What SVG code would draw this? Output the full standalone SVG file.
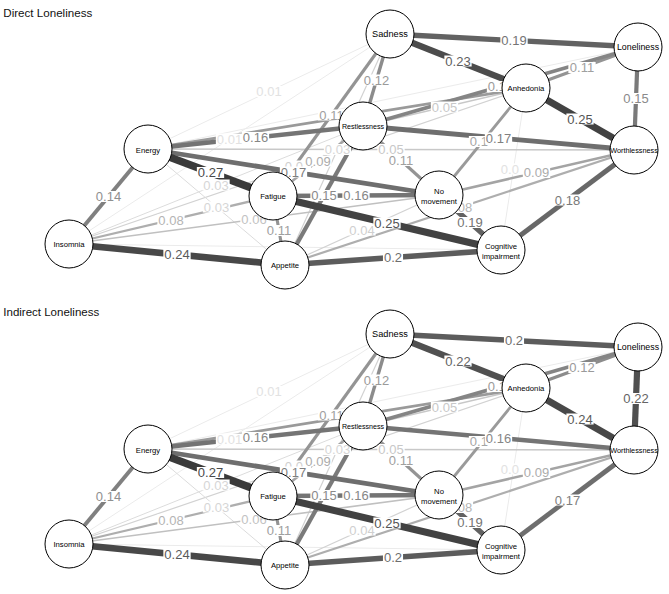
<svg xmlns="http://www.w3.org/2000/svg" width="669" height="594" viewBox="0 0 669 594">
<style>
text{font-family:"Liberation Sans",Arial,Helvetica,sans-serif}
.title{font-size:11.6px;fill:#111}
line{stroke-linecap:butt;fill:none}
.w01{stroke:#ebebeb;stroke-width:1}
.w03{stroke:#dcdcdc;stroke-width:1}
.w04{stroke:#d2d2d2;stroke-width:1.2}
.w05{stroke:#c8c8c8;stroke-width:1.4}
.w06{stroke:#c0c0c0;stroke-width:1.7}
.w08{stroke:#aeaeae;stroke-width:2.2}
.w09{stroke:#a4a4a4;stroke-width:2.5}
.w10{stroke:#9a9a9a;stroke-width:2.8}
.w11{stroke:#949494;stroke-width:3.1}
.w12{stroke:#8c8c8c;stroke-width:3.4}
.w13{stroke:#858585;stroke-width:3.7}
.w14{stroke:#808080;stroke-width:3.9}
.w15{stroke:#7a7a7a;stroke-width:4.2}
.w16{stroke:#747474;stroke-width:4.5}
.w17{stroke:#6e6e6e;stroke-width:4.8}
.w18{stroke:#686868;stroke-width:5}
.w19{stroke:#626262;stroke-width:5.3}
.w20{stroke:#5c5c5c;stroke-width:5.6}
.w22{stroke:#505050;stroke-width:6.2}
.w23{stroke:#4c4c4c;stroke-width:6.4}
.w24{stroke:#484848;stroke-width:6.7}
.w25{stroke:#424242;stroke-width:7}
.w27{stroke:#3a3a3a;stroke-width:7.6}
.bg{fill:#fff}
.el{font-size:13px;text-anchor:middle}
.es{font-size:13px;text-anchor:start}
.l01{fill:#e2e2e2}.l03{fill:#d6d6d6}.l04{fill:#cfcfcf}.l05{fill:#c8c8c8}.l06{fill:#c2c2c2}.l08{fill:#b4b4b4}.l09{fill:#acacac}.l10{fill:#a6a6a6}.l11{fill:#a0a0a0}.l12{fill:#9a9a9a}.l14{fill:#909090}.l15{fill:#8a8a8a}.l16{fill:#868686}.l17{fill:#808080}.l18{fill:#7a7a7a}.l19{fill:#747474}.l20{fill:#6e6e6e}.l22{fill:#646464}.l23{fill:#5e5e5e}.l24{fill:#5a5a5a}.l25{fill:#545454}.l27{fill:#4a4a4a}
.node circle{fill:#fff;stroke:#000;stroke-width:1}
.node text{fill:#000;text-anchor:middle;font-size:7.7px}
</style>

<text class="title" x="3.3" y="16.6">Direct Loneliness</text>
<text class="title" x="3.3" y="316.4" style="font-size:11.5px">Indirect Loneliness</text>

<!-- ================= DIRECT ================= -->
<g id="direct">
<g id="direct-connectors">
<line class="w01" x1="148" y1="149" x2="390" y2="34"/>
<line class="w01" x1="69" y1="244" x2="390" y2="34"/>
<line class="w01" x1="148" y1="149" x2="638" y2="47"/>
<line class="w01" x1="526" y1="88" x2="501" y2="250"/>
<line class="w01" x1="69" y1="244" x2="501" y2="250"/>
<line class="w04" x1="69" y1="244" x2="526" y2="88"/>
<line class="w03" x1="69" y1="244" x2="363" y2="126"/>
<line class="w03" x1="148" y1="149" x2="285" y2="265"/>
<line class="w04" x1="285" y1="265" x2="390" y2="34"/>
<line class="w04" x1="285" y1="265" x2="439" y2="195"/>
<line class="w05" x1="363" y1="126" x2="526" y2="88"/>
<line class="w05" x1="148" y1="149" x2="634" y2="150"/>
<line class="w06" x1="69" y1="244" x2="439" y2="195"/>
<line class="w08" x1="69" y1="244" x2="273" y2="196"/>
<line class="w08" x1="634" y1="150" x2="285" y2="265"/>
<line class="w09" x1="439" y1="195" x2="634" y2="150"/>
<line class="w09" x1="273" y1="196" x2="363" y2="126"/>
<line class="w10" x1="148" y1="149" x2="526" y2="88"/>
<line class="w10" x1="526" y1="88" x2="439" y2="195"/>
<line class="w11" x1="638" y1="47" x2="526" y2="88"/>
<line class="w11" x1="363" y1="126" x2="439" y2="195"/>
<line class="w11" x1="273" y1="196" x2="285" y2="265"/>
<line class="w11" x1="273" y1="196" x2="390" y2="34"/>
<line class="w13" x1="363" y1="126" x2="638" y2="47"/>
<line class="w12" x1="390" y1="34" x2="363" y2="126"/>
<line class="w14" x1="148" y1="149" x2="69" y2="244"/>
<line class="w15" x1="285" y1="265" x2="363" y2="126"/>
<line class="w15" x1="638" y1="47" x2="634" y2="150"/>
<line class="w16" x1="148" y1="149" x2="363" y2="126"/>
<line class="w16" x1="273" y1="196" x2="439" y2="195"/>
<line class="w17" x1="148" y1="149" x2="439" y2="195"/>
<line class="w17" x1="363" y1="126" x2="634" y2="150"/>
<line class="w18" x1="634" y1="150" x2="501" y2="250"/>
<line class="w19" x1="390" y1="34" x2="638" y2="47"/>
<line class="w19" x1="439" y1="195" x2="501" y2="250"/>
<line class="w20" x1="285" y1="265" x2="501" y2="250"/>
<line class="w23" x1="390" y1="34" x2="526" y2="88"/>
<line class="w24" x1="69" y1="244" x2="285" y2="265"/>
<line class="w25" x1="273" y1="196" x2="501" y2="250"/>
<line class="w25" x1="526" y1="88" x2="634" y2="150"/>
<line class="w27" x1="148" y1="149" x2="273" y2="196"/>
</g>
<g id="direct-edge-labels">
<rect class="bg" x="215.85" y="133.5" width="27.3" height="11"/><text class="el l01" x="229.5" y="143.6">0.01</text>
<rect class="bg" x="255.35" y="86" width="27.3" height="11"/><text class="el l01" x="269" y="96.1">0.01</text>
<rect class="bg" x="499.85" y="163.5" width="27.3" height="11"/><text class="es l01" x="500.85" y="173.6">0.0</text>
<rect class="bg" x="283.85" y="160.5" width="27.3" height="11"/><text class="es l04" x="284.85" y="170.6">0.0</text>
<rect class="bg" x="202.35" y="179.5" width="27.3" height="11"/><text class="el l03" x="216" y="189.6">0.03</text>
<rect class="bg" x="202.85" y="201.5" width="27.3" height="11"/><text class="el l03" x="216.5" y="211.6">0.03</text>
<rect class="bg" x="323.85" y="144" width="27.3" height="11"/><text class="el l03" x="337.5" y="154.1">0.03</text>
<rect class="bg" x="348.35" y="224.5" width="27.3" height="11"/><text class="el l04" x="362" y="234.6">0.04</text>
<rect class="bg" x="430.85" y="101.5" width="27.3" height="11"/><text class="el l05" x="444.5" y="111.6">0.05</text>
<rect class="bg" x="377.35" y="144" width="27.3" height="11"/><text class="el l05" x="391" y="154.1">0.05</text>
<rect class="bg" x="240.35" y="214" width="27.3" height="11"/><text class="el l06" x="254" y="224.1">0.06</text>
<rect class="bg" x="157.35" y="214.5" width="27.3" height="11"/><text class="el l08" x="171" y="224.6">0.08</text>
<rect class="bg" x="445.85" y="202" width="27.3" height="11"/><text class="es l08" x="457.7" y="212.1">08</text>
<rect class="bg" x="522.85" y="167" width="27.3" height="11"/><text class="el l09" x="536.5" y="177.1">0.09</text>
<rect class="bg" x="304.35" y="155.5" width="27.3" height="11"/><text class="el l09" x="318" y="165.6">0.09</text>
<rect class="bg" x="486.85" y="81" width="27.3" height="11"/><text class="es l12" x="487.85" y="91.1">0.1</text>
<rect class="bg" x="468.85" y="136" width="27.3" height="11"/><text class="es l10" x="469.85" y="146.1">0.1</text>
<rect class="bg" x="568.35" y="62" width="27.3" height="11"/><text class="el l11" x="582" y="72.1">0.11</text>
<rect class="bg" x="387.35" y="155" width="27.3" height="11"/><text class="el l11" x="401" y="165.1">0.11</text>
<rect class="bg" x="265.35" y="225" width="27.3" height="11"/><text class="el l11" x="279" y="235.1">0.11</text>
<rect class="bg" x="317.85" y="109.5" width="27.3" height="11"/><text class="el l11" x="331.5" y="119.6">0.11</text>
<rect class="bg" x="362.85" y="74.5" width="27.3" height="11"/><text class="el l12" x="376.5" y="84.6">0.12</text>
<rect class="bg" x="94.85" y="191" width="27.3" height="11"/><text class="el l14" x="108.5" y="201.1">0.14</text>
<rect class="bg" x="310.35" y="190" width="27.3" height="11"/><text class="el l15" x="324" y="200.1">0.15</text>
<rect class="bg" x="622.35" y="93" width="27.3" height="11"/><text class="el l15" x="636" y="103.1">0.15</text>
<rect class="bg" x="241.85" y="132" width="27.3" height="11"/><text class="el l16" x="255.5" y="142.1">0.16</text>
<rect class="bg" x="342.35" y="190" width="27.3" height="11"/><text class="el l16" x="356" y="200.1">0.16</text>
<rect class="bg" x="279.85" y="166.5" width="27.3" height="11"/><text class="el l17" x="293.5" y="176.6">0.17</text>
<rect class="bg" x="484.85" y="132.5" width="27.3" height="11"/><text class="el l17" x="498.5" y="142.6">0.17</text>
<rect class="bg" x="553.85" y="194.5" width="27.3" height="11"/><text class="el l18" x="567.5" y="204.6">0.18</text>
<rect class="bg" x="500.35" y="35" width="27.3" height="11"/><text class="el l19" x="514" y="45.1">0.19</text>
<rect class="bg" x="456.35" y="217" width="27.3" height="11"/><text class="el l19" x="470" y="227.1">0.19</text>
<rect class="bg" x="382.95" y="252" width="20.1" height="11"/><text class="el l20" x="393" y="262.1">0.2</text>
<rect class="bg" x="444.35" y="55.5" width="27.3" height="11"/><text class="el l23" x="458" y="65.6">0.23</text>
<rect class="bg" x="163.35" y="249" width="27.3" height="11"/><text class="el l24" x="177" y="259.1">0.24</text>
<rect class="bg" x="373.35" y="217.5" width="27.3" height="11"/><text class="el l25" x="387" y="227.6">0.25</text>
<rect class="bg" x="566.35" y="113.5" width="27.3" height="11"/><text class="el l25" x="580" y="123.6">0.25</text>
<rect class="bg" x="196.85" y="167" width="27.3" height="11"/><text class="el l27" x="210.5" y="177.1">0.27</text>
</g>
<g id="direct-sadness" class="node"><circle cx="390" cy="34" r="24"/><text x="390" y="37" style="font-size:9.2px">Sadness</text></g>
<g id="direct-loneliness" class="node"><circle cx="638" cy="47" r="24"/><text x="638" y="50" style="font-size:8.8px">Loneliness</text></g>
<g id="direct-anhedonia" class="node"><circle cx="526" cy="88" r="24"/><text x="526" y="91">Anhedonia</text></g>
<g id="direct-restlessness" class="node"><circle cx="363" cy="126" r="24"/><text x="363" y="129" style="font-size:7.1px">Restlessness</text></g>
<g id="direct-energy" class="node"><circle cx="148" cy="149" r="24"/><text x="148" y="152.5">Energy</text></g>
<g id="direct-worthlessness" class="node"><circle cx="634" cy="150" r="24"/><text x="634" y="153" style="font-size:7.3px">Worthlessness</text></g>
<g id="direct-nomovement" class="node"><circle cx="439" cy="195" r="24"/><text x="439" y="194">No</text><text x="439" y="203.5">movement</text></g>
<g id="direct-fatigue" class="node"><circle cx="273" cy="196" r="24"/><text x="273" y="199">Fatigue</text></g>
<g id="direct-insomnia" class="node"><circle cx="69" cy="244" r="24"/><text x="69" y="247">Insomnia</text></g>
<g id="direct-appetite" class="node"><circle cx="285" cy="265" r="24"/><text x="285" y="268">Appetite</text></g>
<g id="direct-cognitive" class="node"><circle cx="501" cy="250" r="24"/><text x="501" y="249">Cognitive</text><text x="501" y="258.5">impairment</text></g>
</g>

<!-- ================= INDIRECT ================= -->
<g id="indirect" transform="translate(0,300)">
<g id="indirect-connectors">
<line class="w01" x1="148" y1="149" x2="390" y2="34"/>
<line class="w01" x1="69" y1="244" x2="390" y2="34"/>
<line class="w01" x1="148" y1="149" x2="638" y2="47"/>
<line class="w01" x1="526" y1="88" x2="501" y2="250"/>
<line class="w01" x1="69" y1="244" x2="501" y2="250"/>
<line class="w04" x1="69" y1="244" x2="526" y2="88"/>
<line class="w03" x1="69" y1="244" x2="363" y2="126"/>
<line class="w03" x1="148" y1="149" x2="285" y2="265"/>
<line class="w04" x1="285" y1="265" x2="390" y2="34"/>
<line class="w04" x1="285" y1="265" x2="439" y2="195"/>
<line class="w05" x1="363" y1="126" x2="526" y2="88"/>
<line class="w05" x1="148" y1="149" x2="634" y2="150"/>
<line class="w06" x1="69" y1="244" x2="439" y2="195"/>
<line class="w08" x1="69" y1="244" x2="273" y2="196"/>
<line class="w08" x1="634" y1="150" x2="285" y2="265"/>
<line class="w09" x1="439" y1="195" x2="634" y2="150"/>
<line class="w09" x1="273" y1="196" x2="363" y2="126"/>
<line class="w10" x1="148" y1="149" x2="526" y2="88"/>
<line class="w10" x1="526" y1="88" x2="439" y2="195"/>
<line class="w11" x1="363" y1="126" x2="439" y2="195"/>
<line class="w11" x1="273" y1="196" x2="285" y2="265"/>
<line class="w11" x1="273" y1="196" x2="390" y2="34"/>
<line class="w12" x1="638" y1="47" x2="526" y2="88"/>
<line class="w13" x1="363" y1="126" x2="638" y2="47"/>
<line class="w12" x1="390" y1="34" x2="363" y2="126"/>
<line class="w14" x1="148" y1="149" x2="69" y2="244"/>
<line class="w15" x1="285" y1="265" x2="363" y2="126"/>
<line class="w16" x1="148" y1="149" x2="363" y2="126"/>
<line class="w16" x1="273" y1="196" x2="439" y2="195"/>
<line class="w16" x1="363" y1="126" x2="634" y2="150"/>
<line class="w17" x1="148" y1="149" x2="439" y2="195"/>
<line class="w17" x1="634" y1="150" x2="501" y2="250"/>
<line class="w19" x1="439" y1="195" x2="501" y2="250"/>
<line class="w20" x1="390" y1="34" x2="638" y2="47"/>
<line class="w20" x1="285" y1="265" x2="501" y2="250"/>
<line class="w22" x1="390" y1="34" x2="526" y2="88"/>
<line class="w22" x1="638" y1="47" x2="634" y2="150"/>
<line class="w24" x1="69" y1="244" x2="285" y2="265"/>
<line class="w24" x1="526" y1="88" x2="634" y2="150"/>
<line class="w25" x1="273" y1="196" x2="501" y2="250"/>
<line class="w27" x1="148" y1="149" x2="273" y2="196"/>
</g>
<g id="indirect-edge-labels">
<rect class="bg" x="215.85" y="133.5" width="27.3" height="11"/><text class="el l01" x="229.5" y="143.6">0.01</text>
<rect class="bg" x="255.35" y="86" width="27.3" height="11"/><text class="el l01" x="269" y="96.1">0.01</text>
<rect class="bg" x="499.85" y="163.5" width="27.3" height="11"/><text class="es l01" x="500.85" y="173.6">0.0</text>
<rect class="bg" x="283.85" y="160.5" width="27.3" height="11"/><text class="es l04" x="284.85" y="170.6">0.0</text>
<rect class="bg" x="202.35" y="179.5" width="27.3" height="11"/><text class="el l03" x="216" y="189.6">0.03</text>
<rect class="bg" x="202.85" y="201.5" width="27.3" height="11"/><text class="el l03" x="216.5" y="211.6">0.03</text>
<rect class="bg" x="323.85" y="144" width="27.3" height="11"/><text class="el l03" x="337.5" y="154.1">0.03</text>
<rect class="bg" x="348.35" y="224.5" width="27.3" height="11"/><text class="el l04" x="362" y="234.6">0.04</text>
<rect class="bg" x="430.85" y="101.5" width="27.3" height="11"/><text class="el l05" x="444.5" y="111.6">0.05</text>
<rect class="bg" x="377.35" y="144" width="27.3" height="11"/><text class="el l05" x="391" y="154.1">0.05</text>
<rect class="bg" x="240.35" y="214" width="27.3" height="11"/><text class="el l06" x="254" y="224.1">0.06</text>
<rect class="bg" x="157.35" y="214.5" width="27.3" height="11"/><text class="el l08" x="171" y="224.6">0.08</text>
<rect class="bg" x="445.85" y="202" width="27.3" height="11"/><text class="es l08" x="457.7" y="212.1">08</text>
<rect class="bg" x="522.85" y="167" width="27.3" height="11"/><text class="el l09" x="536.5" y="177.1">0.09</text>
<rect class="bg" x="304.35" y="155.5" width="27.3" height="11"/><text class="el l09" x="318" y="165.6">0.09</text>
<rect class="bg" x="486.85" y="81" width="27.3" height="11"/><text class="es l12" x="487.85" y="91.1">0.1</text>
<rect class="bg" x="468.85" y="136" width="27.3" height="11"/><text class="es l10" x="469.85" y="146.1">0.1</text>
<rect class="bg" x="387.35" y="155" width="27.3" height="11"/><text class="el l11" x="401" y="165.1">0.11</text>
<rect class="bg" x="265.35" y="225" width="27.3" height="11"/><text class="el l11" x="279" y="235.1">0.11</text>
<rect class="bg" x="317.85" y="109.5" width="27.3" height="11"/><text class="el l11" x="331.5" y="119.6">0.11</text>
<rect class="bg" x="568.35" y="62" width="27.3" height="11"/><text class="el l12" x="582" y="72.1">0.12</text>
<rect class="bg" x="362.85" y="74.5" width="27.3" height="11"/><text class="el l12" x="376.5" y="84.6">0.12</text>
<rect class="bg" x="94.85" y="191" width="27.3" height="11"/><text class="el l14" x="108.5" y="201.1">0.14</text>
<rect class="bg" x="310.35" y="190" width="27.3" height="11"/><text class="el l15" x="324" y="200.1">0.15</text>
<rect class="bg" x="241.85" y="132" width="27.3" height="11"/><text class="el l16" x="255.5" y="142.1">0.16</text>
<rect class="bg" x="342.35" y="190" width="27.3" height="11"/><text class="el l16" x="356" y="200.1">0.16</text>
<rect class="bg" x="484.85" y="132.5" width="27.3" height="11"/><text class="el l16" x="498.5" y="142.6">0.16</text>
<rect class="bg" x="279.85" y="166.5" width="27.3" height="11"/><text class="el l17" x="293.5" y="176.6">0.17</text>
<rect class="bg" x="553.85" y="194.5" width="27.3" height="11"/><text class="el l17" x="567.5" y="204.6">0.17</text>
<rect class="bg" x="456.35" y="217" width="27.3" height="11"/><text class="el l19" x="470" y="227.1">0.19</text>
<rect class="bg" x="503.95" y="35" width="20.1" height="11"/><text class="el l20" x="514" y="45.1">0.2</text>
<rect class="bg" x="382.95" y="252" width="20.1" height="11"/><text class="el l20" x="393" y="262.1">0.2</text>
<rect class="bg" x="444.35" y="55.5" width="27.3" height="11"/><text class="el l22" x="458" y="65.6">0.22</text>
<rect class="bg" x="622.35" y="93" width="27.3" height="11"/><text class="el l22" x="636" y="103.1">0.22</text>
<rect class="bg" x="163.35" y="249" width="27.3" height="11"/><text class="el l24" x="177" y="259.1">0.24</text>
<rect class="bg" x="566.35" y="113.5" width="27.3" height="11"/><text class="el l24" x="580" y="123.6">0.24</text>
<rect class="bg" x="373.35" y="217.5" width="27.3" height="11"/><text class="el l25" x="387" y="227.6">0.25</text>
<rect class="bg" x="196.85" y="167" width="27.3" height="11"/><text class="el l27" x="210.5" y="177.1">0.27</text>
</g>
<g id="indirect-sadness" class="node"><circle cx="390" cy="34" r="24"/><text x="390" y="37" style="font-size:9.2px">Sadness</text></g>
<g id="indirect-loneliness" class="node"><circle cx="638" cy="47" r="24"/><text x="638" y="50" style="font-size:8.8px">Loneliness</text></g>
<g id="indirect-anhedonia" class="node"><circle cx="526" cy="88" r="24"/><text x="526" y="91">Anhedonia</text></g>
<g id="indirect-restlessness" class="node"><circle cx="363" cy="126" r="24"/><text x="363" y="129" style="font-size:7.1px">Restlessness</text></g>
<g id="indirect-energy" class="node"><circle cx="148" cy="149" r="24"/><text x="148" y="152.5">Energy</text></g>
<g id="indirect-worthlessness" class="node"><circle cx="634" cy="150" r="24"/><text x="634" y="153" style="font-size:7.3px">Worthlessness</text></g>
<g id="indirect-nomovement" class="node"><circle cx="439" cy="195" r="24"/><text x="439" y="194">No</text><text x="439" y="203.5">movement</text></g>
<g id="indirect-fatigue" class="node"><circle cx="273" cy="196" r="24"/><text x="273" y="199">Fatigue</text></g>
<g id="indirect-insomnia" class="node"><circle cx="69" cy="244" r="24"/><text x="69" y="247">Insomnia</text></g>
<g id="indirect-appetite" class="node"><circle cx="285" cy="265" r="24"/><text x="285" y="268">Appetite</text></g>
<g id="indirect-cognitive" class="node"><circle cx="501" cy="250" r="24"/><text x="501" y="249">Cognitive</text><text x="501" y="258.5">impairment</text></g>
</g>
</svg>
